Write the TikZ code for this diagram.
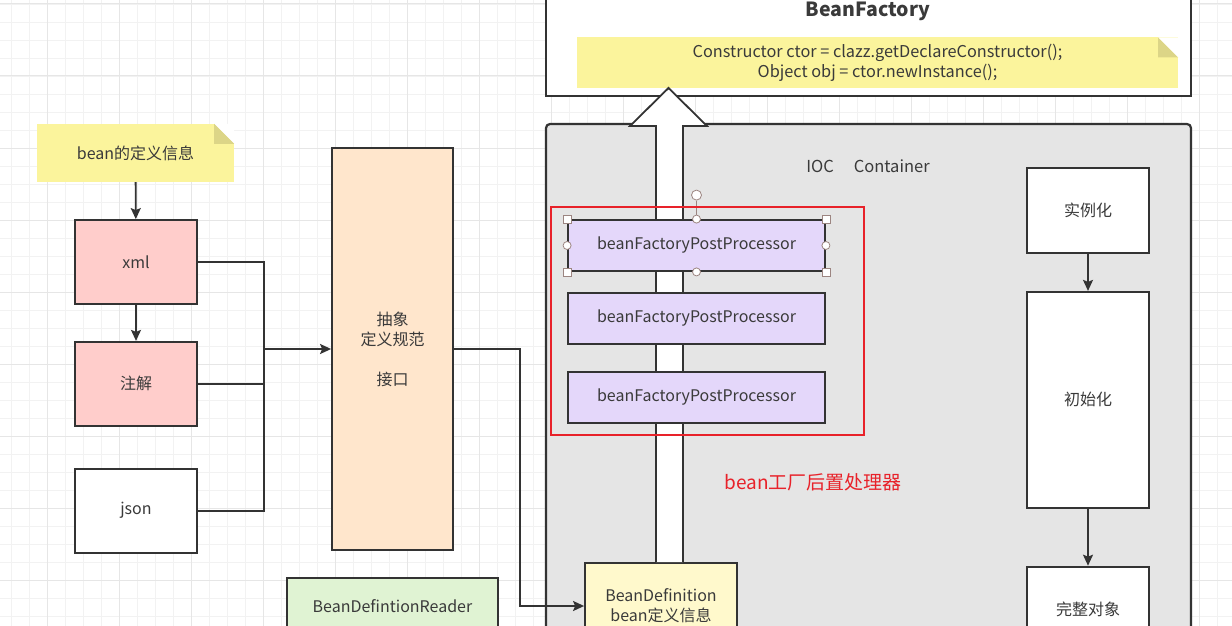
\documentclass[tikz,border=0pt]{standalone}
\usepackage{fontspec}
\setmainfont{Noto Sans CJK SC}
\usetikzlibrary{arrows.meta, positioning}

\definecolor{linegray}{HTML}{333333}
\definecolor{textgray}{HTML}{3A3A3A}
\definecolor{gridminor}{HTML}{F2F2F2}
\definecolor{gridmajor}{HTML}{E6E6E6}
\definecolor{notefill}{HTML}{FBF49C}
\definecolor{notefold}{HTML}{DCD587}
\definecolor{pinkfill}{HTML}{FFCDCB}
\definecolor{peachfill}{HTML}{FFE6CC}
\definecolor{lavfill}{HTML}{E4D7FA}
\definecolor{greenfill}{HTML}{E0F3D3}
\definecolor{deffill}{HTML}{FFF9CC}
\definecolor{iocfill}{HTML}{E5E5E5}
\definecolor{markred}{HTML}{E8222A}
\definecolor{handlecol}{HTML}{9C8581}

\begin{document}
\begin{tikzpicture}[x=1pt, y=-1pt,
    block/.style={draw=linegray, line width=1.8pt, text=textgray, align=center, inner sep=0pt, font=\fontsize{16}{20}\selectfont},
    notebox/.style={fill=notefill, text=textgray, align=center, inner sep=0pt},
    conn/.style={draw=linegray, line width=1.8pt, -{Stealth[length=11pt, width=10pt, inset=2pt]}},
    wire/.style={draw=linegray, line width=1.8pt},
    sqhandle/.style={draw=handlecol, fill=white, line width=0.8pt, minimum size=8pt, inner sep=0pt},
    ochandle/.style={circle, draw=handlecol, fill=white, line width=0.8pt, minimum size=8pt, inner sep=0pt}]

    \useasboundingbox (0,0) rectangle (1232,626);
    \clip (0,0) rectangle (1232,626);

    \foreach \x in {11,29,...,1232} \draw[gridminor, line width=0.8pt] (\x,0) -- (\x,626);
    \foreach \y in {4,22,...,626} \draw[gridminor, line width=0.8pt] (0,\y) -- (1232,\y);
    \foreach \x in {47,119,...,1232} \draw[gridmajor, line width=1pt] (\x,0) -- (\x,626);
    \foreach \y in {4,76,...,626} \draw[gridmajor, line width=1pt] (0,\y) -- (1232,\y);

    \node[notebox, minimum width=197pt, minimum height=58pt, font=\fontsize{16}{20}\selectfont] (defnote) at (135.5,153) {bean的定义信息};
    \fill[white] ([xshift=-20pt]defnote.north east) -- (defnote.north east) -- ([yshift=-20pt]defnote.north east) -- cycle;
    \fill[notefold] ([xshift=-20pt]defnote.north east) -- ([xshift=-20pt, yshift=-20pt]defnote.north east) -- ([yshift=-20pt]defnote.north east) -- cycle;

    \node[block, fill=pinkfill, minimum width=122pt, minimum height=84pt] (xml) at (136,262) {xml};
    \node[block, fill=pinkfill, minimum width=122pt, minimum height=84pt, below=36pt of xml] (anno) {注解};
    \node[block, fill=white, minimum width=122pt, minimum height=84pt, below=41pt of anno] (json) {json};

    \node[block, fill=peachfill, minimum width=121pt, minimum height=402pt] (abstract) at (392.5,349) {抽象\\定义规范\\[20pt]接口};

    \node[block, fill=greenfill, minimum width=211pt, minimum height=56pt] (reader) at (392.5,606) {BeanDefintionReader};

    \node[block, fill=white, minimum width=645pt, minimum height=126pt] (factory) at (868.5,33) {};
    \node[text=textgray, font=\fontsize{19.5}{23}\selectfont\bfseries] (factorytitle) at (868,11.5) {BeanFactory};
    \node[notebox, minimum width=601pt, minimum height=51pt, font=\fontsize{16.3}{20}\selectfont] (code) at (877.5,63) {Constructor ctor = clazz.getDeclareConstructor();\\Object obj = ctor.newInstance();};
    \fill[notefold] ([xshift=-20pt]code.north east) -- ([xshift=-20pt, yshift=-20pt]code.north east) -- ([yshift=-20pt]code.north east) -- cycle;
    \fill[white] ([xshift=-20pt]code.north east) -- (code.north east) -- ([yshift=-20pt]code.north east) -- cycle;

    \node[block, fill=iocfill, line width=2.2pt, rounded corners=4pt, minimum width=645pt, minimum height=540pt] (ioc) at (868.5,394) {};
    \node[text=textgray, font=\fontsize{16.5}{20}\selectfont] (ioctitle) at (868,166) {IOC\hspace{1.2em}Container};

    \node[block, fill=deffill, minimum width=152pt, minimum height=86pt] (beandef) at (661,606) {BeanDefinition\\bean定义信息};

    \draw[linegray, line width=1.8pt, fill=white] (656,562) -- (656,126) -- (630,126) -- (668.5,88) -- (707,126) -- (683,126) -- (683,562);

    \node[block, fill=lavfill, minimum width=257pt, minimum height=51pt] (proc1) at (696.5,245.5) {beanFactoryPostProcessor};
    \node[block, fill=lavfill, minimum width=257pt, minimum height=51pt, below=20pt of proc1] (proc2) {beanFactoryPostProcessor};
    \node[block, fill=lavfill, minimum width=257pt, minimum height=51pt, below=26pt of proc2] (proc3) {beanFactoryPostProcessor};

    \node[ochandle, minimum size=10pt] (rot) at ([yshift=24pt]proc1.north) {};
    \draw[handlecol, line width=0.8pt] (rot) -- (proc1.north);
    \foreach \a [count=\i] in {north west, north east, south west, south east}
        \node[sqhandle] (hs\i) at (proc1.\a) {};
    \foreach \a [count=\i] in {north, south, west, east}
        \node[ochandle] (hc\i) at (proc1.\a) {};

    \node[draw=markred, line width=1.8pt, minimum width=313pt, minimum height=228pt, inner sep=0pt] (redframe) at (707.5,321) {};
    \node[text=markred, font=\fontsize{19}{22}\selectfont] (redcaption) at (813,482) {bean工厂后置处理器};

    \node[block, fill=white, minimum width=122pt, minimum height=85pt] (inst) at (1088,210.5) {实例化};
    \node[block, fill=white, minimum width=122pt, minimum height=216pt, below=37pt of inst] (init) {初始化};
    \node[block, fill=white, minimum width=122pt, minimum height=85pt, below=57pt of init] (full) {完整对象};

    \coordinate (join) at (264,349);
    \draw[conn] (defnote) -- (xml);
    \draw[conn] (xml) -- (anno);
    \draw[wire] (xml.east) -| (join);
    \draw[wire] (anno.east) -| (join);
    \draw[wire] (json.east) -| (join);
    \draw[conn] (join) -- (abstract.west);
    \draw[conn] (abstract.east) -- ++(66,0) |- (beandef.west);
    \draw[conn] (inst) -- (init);
    \draw[conn] (init) -- (full);
\end{tikzpicture}
\end{document}
